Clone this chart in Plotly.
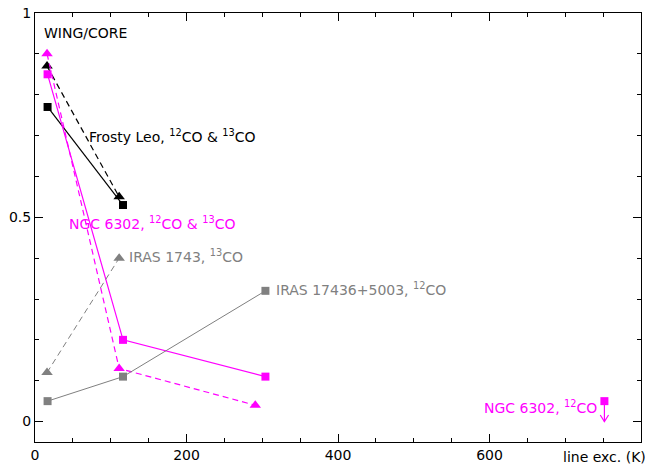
import plotly.graph_objects as go

# Line excitation energies (K) of the CO transitions
x_12co = [16.6, 116.2, 304.2]
x_13co = [15.9, 111.1, 290.8]

# Wing/core ratios
frosty_12co = [0.77, 0.53]
frosty_13co = [0.87, 0.55]
ngc6302_12co = [0.85, 0.20, 0.11]
ngc6302_13co = [0.90, 0.13, 0.04]
iras_13co = [0.12, 0.40]
iras_12co = [0.05, 0.11, 0.32]

# Upper limit for NGC 6302 in the high-J 12CO line
ngc6302_limit_x = 751.7
ngc6302_limit_y = 0.05

# Axis ticks
x_range = [0, 800]
y_range = [-0.05, 1.0]
x_ticks = [0, 200, 400, 600]
y_ticks = [0, 0.5, 1]
y_ticktext = ["0", "0.5", "1"]

BLACK = "#000000"
MAGENTA = "#ff00ff"
GRAY = "#808080"
FONT = "DejaVu Sans"
DASH = "6px,4px"

fig = go.Figure()


def series(x, y, color, symbol, dash=None, width=1.2):
    size = 10 if symbol.startswith("triangle") else 8
    fig.add_trace(go.Scatter(
        x=x, y=y, mode="lines+markers",
        line=dict(color=color, width=width, dash=dash),
        marker=dict(symbol=symbol, size=size, color=color, line=dict(width=0)),
        showlegend=False, cliponaxis=False,
    ))


series(x_12co[:2], frosty_12co, BLACK, "square")
series(x_13co[:2], frosty_13co, BLACK, "triangle-up", dash=DASH)
series(x_12co, ngc6302_12co, MAGENTA, "square")
series(x_13co, ngc6302_13co, MAGENTA, "triangle-up", dash=DASH)
series(x_13co[:2], iras_13co, GRAY, "triangle-up", dash=DASH, width=1)
series(x_12co, iras_12co, GRAY, "square", width=1)

# upper-limit point with a downward arrow
fig.add_trace(go.Scatter(
    x=[ngc6302_limit_x], y=[ngc6302_limit_y], mode="markers",
    marker=dict(symbol="square", size=8, color=MAGENTA, line=dict(width=0)),
    showlegend=False, cliponaxis=False,
))
head_dx = 5.5
head_dy = 0.016
fig.add_trace(go.Scatter(
    x=[ngc6302_limit_x, ngc6302_limit_x, None,
       ngc6302_limit_x - head_dx, ngc6302_limit_x, ngc6302_limit_x + head_dx],
    y=[ngc6302_limit_y, 0, None, head_dy, 0, head_dy],
    mode="lines", line=dict(color=MAGENTA, width=1.2),
    showlegend=False, hoverinfo="skip",
))


def label(x, y, text, color, xanchor="left", yref="y", size=14):
    fig.add_annotation(
        x=x, y=y, xref="x", yref=yref, text=text, showarrow=False,
        xanchor=xanchor, yanchor="middle",
        font=dict(family=FONT, size=size, color=color),
    )


label(9, 0.95, "WING/CORE", BLACK)
label(68, 0.70, "Frosty Leo, <sup>12</sup>CO & <sup>13</sup>CO", BLACK)
label(42, 0.485, "NGC 6302, <sup>12</sup>CO & <sup>13</sup>CO", MAGENTA)
label(121, 0.405, "IRAS 1743, <sup>13</sup>CO", GRAY)
label(316, 0.325, "IRAS 17436+5003, <sup>12</sup>CO", GRAY)
label(744, 0.035, "NGC 6302, <sup>12</sup>CO", MAGENTA, xanchor="right")
label(694, -0.035, "line exc. (K)", BLACK, yref="paper")

axis_common = dict(
    showgrid=False, zeroline=False, showline=True, linecolor=BLACK,
    linewidth=1, mirror="ticks", ticks="inside", ticklen=8,
    tickcolor=BLACK, tickwidth=1,
    tickfont=dict(family=FONT, size=14, color=BLACK),
)

fig.update_layout(
    xaxis=dict(range=x_range, tickmode="array", tickvals=x_ticks,
               minor=dict(tickmode="linear", tick0=0, dtick=50,
                          ticks="inside", ticklen=4, tickcolor=BLACK,
                          tickwidth=1),
               **axis_common),
    yaxis=dict(range=y_range, tickmode="array", tickvals=y_ticks,
               ticktext=y_ticktext,
               minor=dict(tickmode="linear", tick0=0, dtick=0.1,
                          ticks="inside", ticklen=4, tickcolor=BLACK,
                          tickwidth=1),
               **axis_common),
    width=645, height=466,
    margin=dict(l=35, r=4, t=13, b=24),
    plot_bgcolor="white", paper_bgcolor="white",
    showlegend=False,
)

fig.write_html("out.html")
